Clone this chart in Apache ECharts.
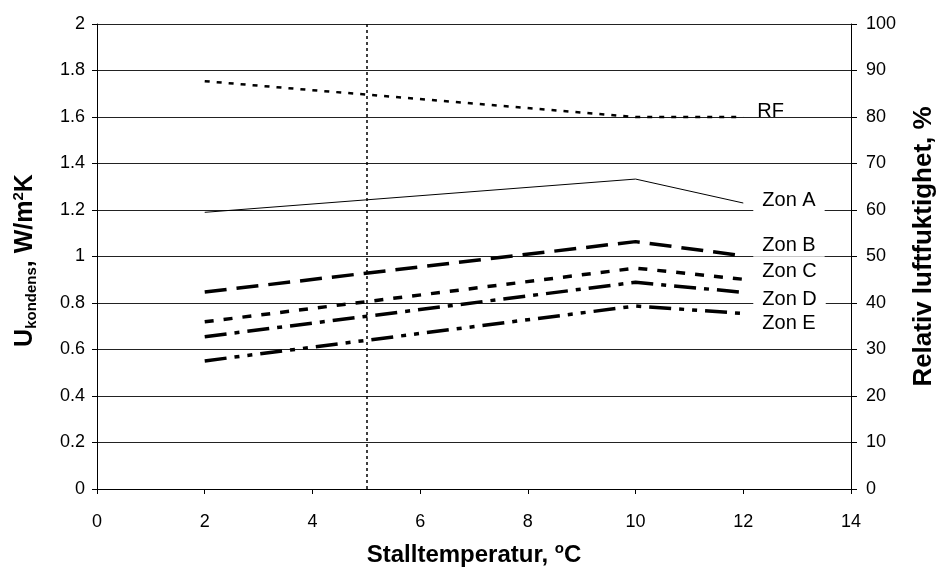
<!DOCTYPE html>
<html>
<head>
<meta charset="utf-8">
<title>Ukondens</title>
<script src="https://cdn.jsdelivr.net/npm/echarts@6/dist/echarts.min.js"></script>
<style>
  html, body { margin: 0; padding: 0; background: #fff; }
  #chart { width: 940px; height: 574px; }
</style>
</head>
<body>
<div id="chart"></div>
<script>
// stalltemperatur, °C
const temps = [2, 10, 12]
// U-värden per zon, W/m2K
const zonA = [1.19, 1.333, 1.23]
const zonB = [0.847, 1.064, 1.003]
const zonC = [0.719, 0.95, 0.902]
const zonD = [0.655, 0.889, 0.846]
const zonE = [0.551, 0.787, 0.755]
// relativ luftfuktighet, %
const rf = [87.7, 80, 80]
// markerad temperatur
const refTemp = 5

const font = 'Liberation Sans, Arial, sans-serif'

function pairs (values) {
  return temps.map((t, i) => [t, values[i]])
}

function zone (name, values, lineStyle, offset) {
  return {
    name: name,
    type: 'line',
    yAxisIndex: 0,
    data: pairs(values),
    showSymbol: false,
    lineStyle: Object.assign({ color: '#000', cap: 'butt' }, lineStyle),
    endLabel: {
      show: true,
      formatter: '{a}',
      distance: 0,
      offset: offset,
      color: '#000',
      fontFamily: font,
      fontSize: 20,
      backgroundColor: '#fff',
      padding: [1, 9, 1, 9]
    }
  }
}

const chart = echarts.init(document.getElementById('chart'))

chart.setOption({
  animation: false,
  backgroundColor: '#fff',
  grid: {
    left: 97,
    right: 89,
    top: 24,
    bottom: 85,
    containLabel: false,
    outerBoundsMode: 'none'
  },
  xAxis: {
    type: 'value',
    min: 0,
    max: 14,
    interval: 2,
    name: 'Stalltemperatur, {sup|o}C',
    nameLocation: 'middle',
    nameGap: 52,
    nameTextStyle: {
      color: '#000',
      fontFamily: font,
      fontWeight: 'bold',
      fontSize: 24,
      lineHeight: 28,
      rich: {
        sup: { fontSize: 15, fontWeight: 'bold', lineHeight: 14, verticalAlign: 'top', fontFamily: font }
      }
    },
    axisLine: { lineStyle: { color: '#000', width: 1 } },
    axisTick: { inside: false, length: 5, lineStyle: { color: '#000' } },
    axisLabel: { color: '#000', fontFamily: font, fontSize: 18, margin: 24 },
    splitLine: { show: false }
  },
  yAxis: [
    {
      type: 'value',
      min: 0,
      max: 2,
      interval: 0.2,
      name: 'U{sub|kondens}, W/m{sup|2}K',
      nameLocation: 'middle',
      nameGap: 58,
      nameRotate: 90,
      nameTextStyle: {
        color: '#000',
        fontFamily: font,
        fontWeight: 'bold',
        fontSize: 25,
        lineHeight: 28,
        padding: [0, 8, 0, 0],
        rich: {
          sub: { fontSize: 15, fontWeight: 'bold', lineHeight: 14, verticalAlign: 'bottom', fontFamily: font },
          sup: { fontSize: 15, fontWeight: 'bold', lineHeight: 14, verticalAlign: 'top', fontFamily: font }
        }
      },
      axisLine: { show: true, lineStyle: { color: '#000', width: 1 } },
      axisTick: { show: true, length: 5, lineStyle: { color: '#000' } },
      axisLabel: { color: '#000', fontFamily: font, fontSize: 18, margin: 12 },
      splitLine: { show: true, lineStyle: { color: '#222', width: 1 } }
    },
    {
      type: 'value',
      min: 0,
      max: 100,
      interval: 10,
      position: 'right',
      name: 'Relativ luftfuktighet, %',
      nameLocation: 'middle',
      nameGap: 60,
      nameRotate: 90,
      nameTextStyle: {
        color: '#000',
        fontFamily: font,
        fontWeight: 'bold',
        fontSize: 26,
        padding: [0, 0, 0, 20]
      },
      axisLine: { show: true, lineStyle: { color: '#000', width: 1 } },
      axisTick: { show: true, length: 6, lineStyle: { color: '#000' } },
      axisLabel: { color: '#000', fontFamily: font, fontSize: 18, margin: 15 },
      splitLine: { show: false }
    }
  ],
  series: [
    {
      name: 'RF',
      type: 'line',
      yAxisIndex: 1,
      data: pairs(rf),
      showSymbol: false,
      lineStyle: { color: '#000', width: 2.5, type: [5, 7], cap: 'butt' },
      endLabel: {
        show: true,
        formatter: '{a}',
        distance: 0,
        offset: [14, -6],
        color: '#000',
        fontFamily: font,
        fontSize: 20
      },
      markLine: {
        silent: true,
        symbol: 'none',
        label: { show: false },
        lineStyle: { color: '#000', width: 1.5, type: [3, 3] },
        data: [{ xAxis: refTemp }]
      }
    },
    zone('Zon A', zonA, { width: 1, type: 'solid' }, [10, -3]),
    zone('Zon B', zonB, { width: 3.5, type: [22, 10] }, [10, -10]),
    zone('Zon C', zonC, { width: 3.5, type: [9, 10] }, [10, -8]),
    zone('Zon D', zonD, { width: 3.5, type: [22, 8, 5, 8] }, [10, 7]),
    zone('Zon E', zonE, { width: 3.5, type: [22, 8, 5, 8, 5, 8] }, [10, 10])
  ]
})
</script>
</body>
</html>
